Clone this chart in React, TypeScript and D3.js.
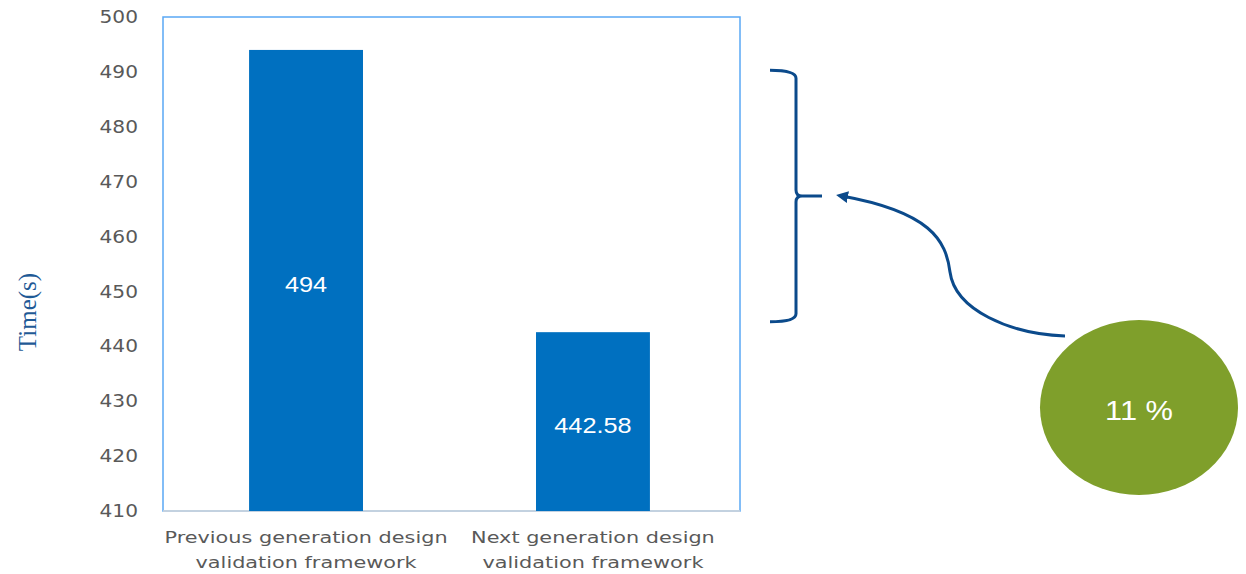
import React from "react";
import * as d3 from "d3";

const categories = [
  ["Previous generation design", "validation framework"],
  ["Next generation design", "validation framework"],
];
const values = [494, 442.58];
const valueLabels = ["494", "442.58"];
const yTicks = [410, 420, 430, 440, 450, 460, 470, 480, 490, 500];
const improvement = "11 %";
const bracketRange = [490.3, 444.5];

const W = 1246, H = 574;
const m = { left: 163, right: 740, top: 17, bottom: 511 };

export default function App() {
  const y = d3.scaleLinear().domain([410, 500]).range([m.bottom, m.top]);
  const x = d3.scaleBand().domain(["0", "1"]).range([m.left, 736]).paddingInner(0.603).paddingOuter(0.3);
  const font = "'DejaVu Sans', sans-serif";
  const sans = "'Liberation Sans', Arial, sans-serif";
  const bTop = y(bracketRange[0]);
  const bBot = y(bracketRange[1]);
  const bMid = (bTop + bBot) / 2;
  const bx = 796;
  const bracket = `M770,${bTop} Q796,${bTop} ${bx},${bTop + 8} L${bx},${bMid - 6} Q${bx},${bMid} ${bx + 6},${bMid} L822,${bMid} M${bx + 6},${bMid} Q${bx},${bMid} ${bx},${bMid + 6} L${bx},${bBot - 8} Q${bx},${bBot} 770,${bBot}`;
  const arrow = `M1065,336 C1010,334 955,310 950,272 C946,240 930,212 842,196`;
  return (
    <svg width={W} height={H} style={{ position: "absolute", left: 0, top: 0 }}>
      <defs>
        <marker id="ah" viewBox="0 0 10 10" refX="5" refY="5" markerWidth="4" markerHeight="4" orient="auto-start-reverse">
          <path d="M0,0 L10,5 L0,10 z" fill="#0b4a8b" />
        </marker>
      </defs>
      <rect x={m.left} y={y(500)} width={m.right - m.left} height={m.bottom - y(500)} fill="none" stroke="#5aa8f5" strokeWidth={1.5} />
      <line x1={m.left} x2={m.right} y1={m.bottom} y2={m.bottom} stroke="#d9d9d9" strokeWidth={1.5} />
      {yTicks.map((t) => (
        <text key={t} transform={`translate(138,${y(t)}) scale(1.12,1)`} textAnchor="end" dominantBaseline="central" fontFamily={font} fontSize={18} fill="#595959">{t}</text>
      ))}
      <text transform={`translate(36,312) rotate(-90)`} textAnchor="middle" fontFamily="'Liberation Serif', serif" fontSize={25} fill="#1f5a96">Time(s)</text>
      {values.map((v, i) => {
        const bx0 = x(String(i))!;
        const bw = x.bandwidth();
        const cx = bx0 + bw / 2;
        return (
          <g key={i}>
            <rect x={bx0} y={y(v)} width={bw} height={m.bottom - y(v)} fill="#0070c0" />
            <text transform={`translate(${cx},${(y(v) + m.bottom) / 2 + 4}) scale(1.15,1)`} textAnchor="middle" dominantBaseline="central" fontFamily={sans} fontSize={22} fill="#ffffff">{valueLabels[i]}</text>
            {categories[i].map((l, j) => (
              <text key={j} transform={`translate(${cx},${537 + j * 25}) scale(1.3,1)`} textAnchor="middle" dominantBaseline="central" fontFamily={font} fontSize={16} fill="#595959">{l}</text>
            ))}
          </g>
        );
      })}
      <path d={bracket} fill="none" stroke="#0b4a8b" strokeWidth={3} />
      <path d={arrow} fill="none" stroke="#0b4a8b" strokeWidth={3} markerEnd="url(#ah)" />
      <ellipse cx={1139} cy={407.5} rx={99} ry={87.5} fill="#7f9f2b" />
      <text transform={`translate(1139,410) scale(1.1,1)`} textAnchor="middle" dominantBaseline="central" fontFamily={sans} fontSize={28} fill="#ffffff">{improvement}</text>
    </svg>
  );
}
